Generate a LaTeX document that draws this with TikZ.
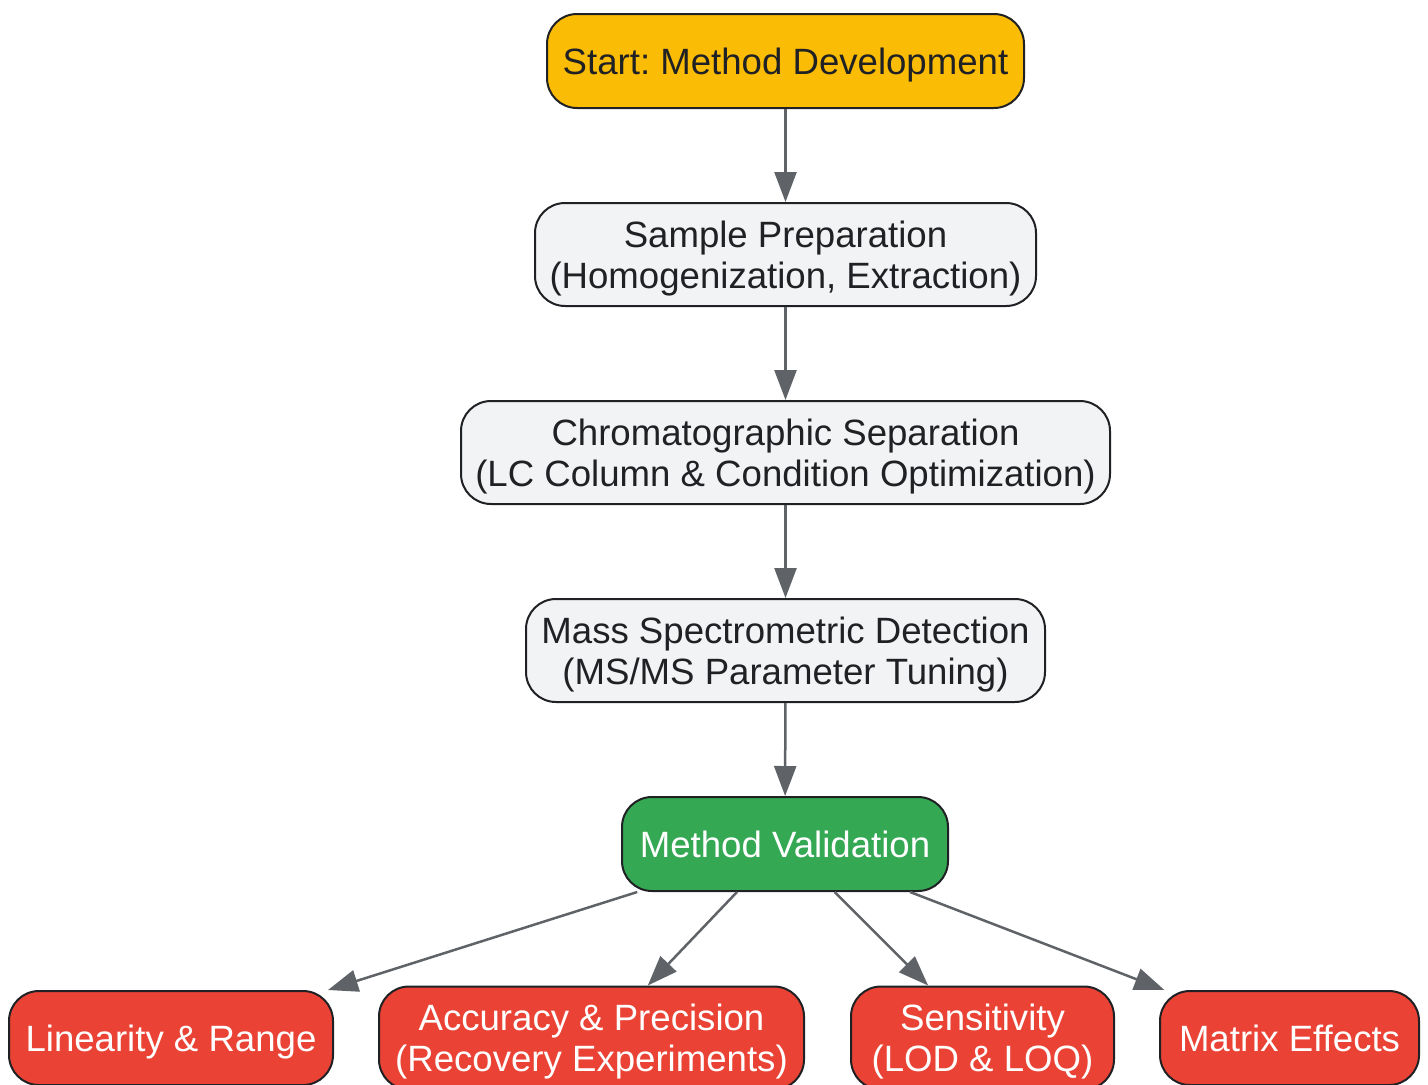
\documentclass[tikz,border=0pt]{standalone}
\usepackage{fontspec}
\setmainfont{Liberation Sans}
\usetikzlibrary{arrows.meta}
\frenchspacing
\definecolor{startyellow}{HTML}{FBBC05}
\definecolor{stepgray}{HTML}{F1F3F4}
\definecolor{validgreen}{HTML}{34A853}
\definecolor{checkred}{HTML}{EA4335}
\definecolor{edgedark}{HTML}{202124}
\definecolor{arrowgray}{HTML}{5F6368}
\tikzset{stepbox/.style = {draw=edgedark, line width=2pt, rounded corners=30pt,
                           align=center, inner sep=0pt, minimum height=94pt,
                           text depth=0pt, text=edgedark,
                           font=\fontsize{36.6}{41}\selectfont},
         twoline/.style = {minimum height=103pt},
         checkbox/.style = {stepbox, fill=checkred, text=white},
         flow/.style = {draw=arrowgray, line width=2.5pt,
                        -{Triangle[length=30pt, width=22pt]}}}

\begin{document}
\begin{tikzpicture}[x=1pt, y=-1pt]
    \useasboundingbox (0, 0) rectangle (1428, 1085);

    \node [stepbox, fill=startyellow, minimum width=477pt] (start) at (785.5, 61) {Start: Method Development};
    \node [stepbox, twoline, fill=stepgray, minimum width=501pt] (prep) at (785.5, 254.5) {Sample Preparation\\(Homogenization, Extraction)};
    \node [stepbox, twoline, fill=stepgray, minimum width=649pt] (chrom) at (785.5, 452.5) {Chromatographic Separation\\(LC Column \& Condition Optimization)};
    \node [stepbox, twoline, fill=stepgray, minimum width=519pt] (mass) at (785.5, 650.5) {Mass Spectrometric Detection\\(MS/MS Parameter Tuning)};
    \node [stepbox, fill=validgreen, text=white, minimum width=326pt] (valid) at (785, 844) {Method Validation};

    \node [checkbox, minimum width=324pt] (linear) at (171, 1038) {Linearity \& Range};
    \node [checkbox, twoline, minimum width=425pt] (accur) at (591.5, 1038) {Accuracy \& Precision\\(Recovery Experiments)};
    \node [checkbox, twoline, minimum width=263pt] (sensit) at (982.5, 1038) {Sensitivity\\(LOD \& LOQ)};
    \node [checkbox, minimum width=259pt] (matrix) at (1289.5, 1038) {Matrix Effects};

    \draw [flow] (start) -- (prep);
    \draw [flow] (prep) -- (chrom);
    \draw [flow] (chrom) -- (mass);
    \draw [flow] (mass) -- (valid);

    \draw [flow] (valid.-162.5) -- (linear.17);
    \draw [flow] (valid.-135) -- (accur.43.4);
    \draw [flow] (valid.-44.4) -- (sensit.136.6);
    \draw [flow] (valid.-21.2) -- (matrix.159.6);
  \end{tikzpicture}
\end{document}
